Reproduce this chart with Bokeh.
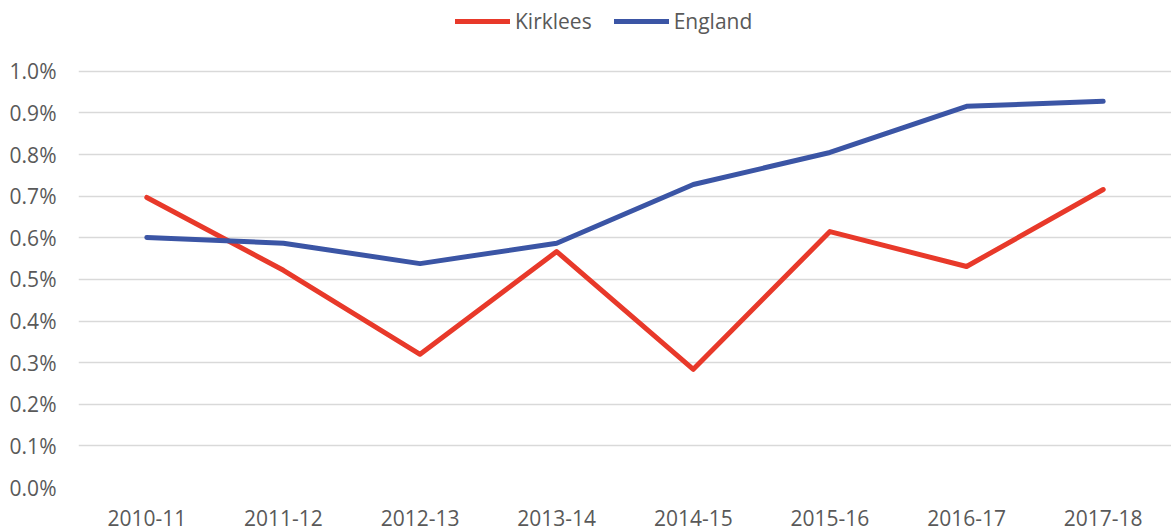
from bokeh.plotting import figure
from bokeh.models import NumeralTickFormatter, FixedTicker, Range1d, Legend, LegendItem
from bokeh.embed import file_html
from bokeh.resources import INLINE

years = ["2010-11", "2011-12", "2012-13", "2013-14", "2014-15", "2015-16", "2016-17", "2017-18"]
kirklees = [0.00697, 0.00522, 0.00320, 0.00567, 0.00284, 0.00615, 0.00531, 0.00716]
england = [0.00601, 0.00587, 0.00538, 0.00587, 0.00728, 0.00805, 0.00916, 0.00928]
y_ticks = [0.0, 0.001, 0.002, 0.003, 0.004, 0.005, 0.006, 0.007, 0.008, 0.009, 0.010]

FONT = "Open Sans"
TXT = "#595959"
RED = "#E8392A"
BLUE = "#3B55A5"

p = figure(x_range=years, width=1171, height=530, output_backend="svg",
           toolbar_location=None, min_border_left=78, min_border_right=0,
           min_border_top=8, min_border_bottom=43)
p.y_range = Range1d(0, 0.01151)
p.outline_line_color = None

r1 = p.line(years, kirklees, line_color=RED, line_width=5, line_cap="round", line_join="round")
r2 = p.line(years, england, line_color=BLUE, line_width=5, line_cap="round", line_join="round")

p.yaxis.ticker = FixedTicker(ticks=y_ticks)
p.yaxis.formatter = NumeralTickFormatter(format="0.0%")
for ax in (p.xaxis[0], p.yaxis[0]):
    ax.axis_line_color = None
    ax.major_tick_line_color = None
    ax.minor_tick_line_color = None
    ax.major_tick_out = 0
    ax.major_tick_in = 0
    ax.major_label_text_font = FONT
    ax.major_label_text_font_size = "21px"
    ax.major_label_text_color = TXT
p.yaxis.major_label_standoff = 22
p.xaxis.major_label_standoff = 22

p.xgrid.grid_line_color = None
p.ygrid.grid_line_color = "#D9D9D9"
p.ygrid.grid_line_width = 1.5

legend = Legend(items=[LegendItem(label="Kirklees", renderers=[r1]),
                       LegendItem(label="England", renderers=[r2])],
                orientation="horizontal", location=(377, 452),
                glyph_width=55, glyph_height=20, label_standoff=5, spacing=22,
                padding=0, margin=0, border_line_color=None, background_fill_alpha=0,
                label_text_font=FONT, label_text_font_size="21px", label_text_color=TXT)
p.add_layout(legend)

open("out.html", "w").write(file_html(p, INLINE))
